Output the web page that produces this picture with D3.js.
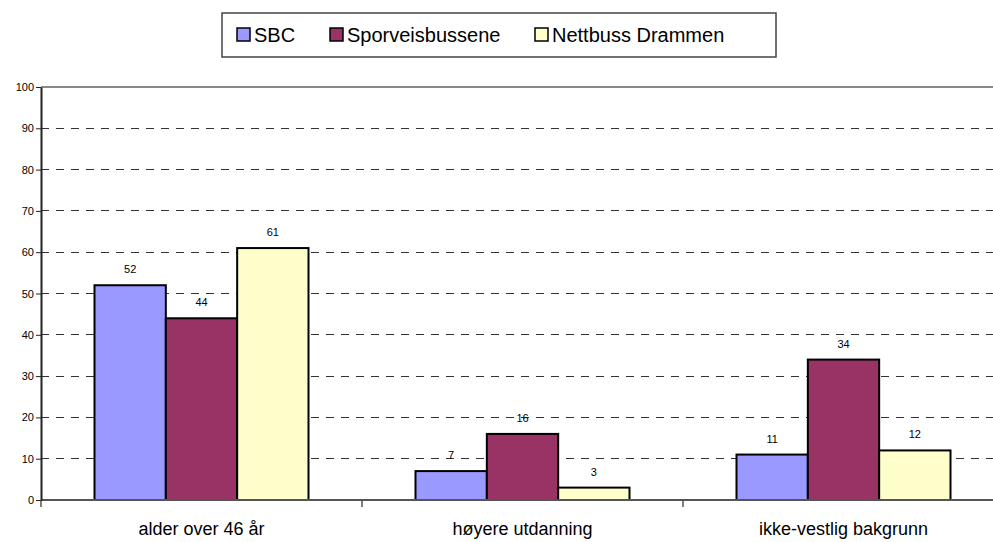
<!DOCTYPE html>
<html>
<head>
<meta charset="utf-8">
<script src="https://cdn.jsdelivr.net/npm/d3@7"></script>
<style>
  body { margin: 0; background: #fff; }
  svg { display: block; font-family: "Liberation Sans", Arial, sans-serif; }
</style>
</head>
<body>
<svg id="chart" width="993" height="542"></svg>
<script>
// chart data
const categories = ["alder over 46 år", "høyere utdanning", "ikke-vestlig bakgrunn"];
const seriesNames = ["SBC", "Sporveisbussene", "Nettbuss Drammen"];
const sbc = [52, 7, 11];
const sporveis = [44, 16, 34];
const nettbuss = [61, 3, 12];
const yTicks = [0, 10, 20, 30, 40, 50, 60, 70, 80, 90, 100];
const colors = ["#9999ff", "#993366", "#ffffcc"];

const seriesValues = [sbc, sporveis, nettbuss];

const margin = {top: 87, left: 41};
const plotH = 413;
const plotW = 963;

const svg = d3.select("#chart");
const chart = svg.append("g").attr("transform", `translate(${margin.left},${margin.top})`);

const y = d3.scaleLinear().domain([0, 100]).range([plotH, 0]);
const x0 = d3.scaleBand().domain(categories).range([0, plotW]).padding(0);
const x1 = d3.scaleBand().domain(seriesNames).range([0, x0.bandwidth()]).paddingInner(0).paddingOuter(0.75);

// gridlines
chart.append("g").selectAll("line")
  .data(yTicks.filter(d => d > 0 && d < 100))
  .join("line")
  .attr("x1", 0).attr("x2", plotW)
  .attr("y1", d => y(d)).attr("y2", d => y(d))
  .attr("stroke", "#333").attr("stroke-width", 1)
  .attr("stroke-dasharray", "8,7")
  .attr("shape-rendering", "crispEdges");

// top border
chart.append("line")
  .attr("x1", 0).attr("x2", plotW).attr("y1", y(100)).attr("y2", y(100))
  .attr("stroke", "#888").attr("stroke-width", 2);

// bars
const groups = chart.selectAll(".cat")
  .data(categories)
  .join("g")
  .attr("class", "cat")
  .attr("transform", d => `translate(${x0(d)},0)`);

groups.each(function(cat, ci) {
  const g = d3.select(this);
  const rows = seriesNames.map((s, si) => ({s, si, v: seriesValues[si][ci]}));
  g.selectAll("rect")
    .data(rows)
    .join("rect")
    .attr("x", d => x1(d.s))
    .attr("y", d => y(d.v))
    .attr("width", x1.bandwidth())
    .attr("height", d => y(0) - y(d.v))
    .attr("fill", d => colors[d.si])
    .attr("stroke", "#000")
    .attr("stroke-width", 2);
  g.selectAll("text")
    .data(rows)
    .join("text")
    .attr("x", d => x1(d.s) + x1.bandwidth() / 2)
    .attr("y", d => y(d.v) - 12)
    .attr("text-anchor", "middle")
    .attr("font-size", 11)
    .attr("fill", "#000")
    .text(d => d.v);
});

// x axis
const xAxisG = chart.append("g").attr("transform", `translate(0,${plotH})`);
xAxisG.append("line").attr("x1", 0).attr("x2", plotW).attr("y1", 0).attr("y2", 0)
  .attr("stroke", "#555").attr("stroke-width", 2);
xAxisG.selectAll(".tk")
  .data(categories)
  .join("line")
  .attr("x1", d => x0(d)).attr("x2", d => x0(d))
  .attr("y1", 0).attr("y2", 7)
  .attr("stroke", "#555").attr("stroke-width", 1.5);
xAxisG.selectAll("text")
  .data(categories)
  .join("text")
  .attr("x", d => x0(d) + x0.bandwidth() / 2)
  .attr("y", 35)
  .attr("text-anchor", "middle")
  .attr("font-size", 18)
  .attr("fill", "#000")
  .text(d => d);

// y axis
const yAxis = d3.axisLeft(y).tickValues(yTicks).tickSize(5).tickSizeOuter(0);
const yAxisG = chart.append("g").call(yAxis);
yAxisG.select(".domain").attr("stroke", "#222").attr("stroke-width", 2);
yAxisG.selectAll(".tick line").attr("stroke", "#222");
yAxisG.selectAll(".tick text")
  .attr("font-size", 11)
  .attr("font-family", "Liberation Sans, Arial, sans-serif")
  .attr("fill", "#000")
  .attr("x", -7);

// legend
const legend = svg.append("g").attr("transform", "translate(222,13)");
legend.append("rect")
  .attr("x", 0).attr("y", 0).attr("width", 554).attr("height", 44)
  .attr("fill", "#fff").attr("stroke", "#444").attr("stroke-width", 1.5);
const legendX = [15, 108, 313];
const items = legend.selectAll(".item")
  .data(seriesNames)
  .join("g")
  .attr("class", "item")
  .attr("transform", (d, i) => `translate(${legendX[i]},0)`);
items.append("rect")
  .attr("x", 0).attr("y", 15).attr("width", 13).attr("height", 13)
  .attr("fill", (d, i) => colors[i]).attr("stroke", "#000").attr("stroke-width", 1.5);
items.append("text")
  .attr("x", 17).attr("y", 29)
  .attr("font-size", 20)
  .attr("fill", "#000")
  .text(d => d);
</script>
</body>
</html>
